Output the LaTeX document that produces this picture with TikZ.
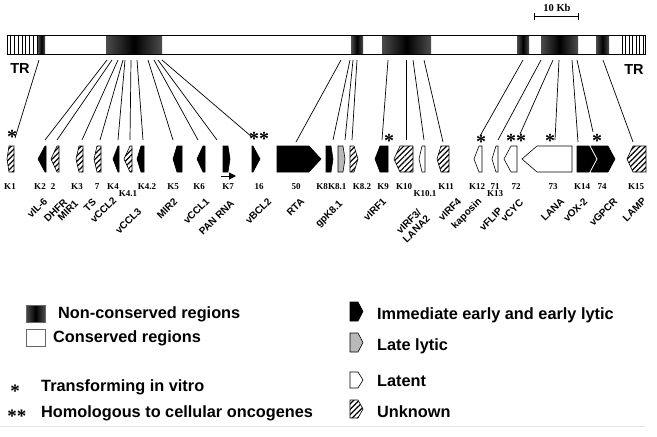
\documentclass[tikz,border=0pt]{standalone}
\usepackage{fontspec}
\setmainfont{Liberation Serif}
\setsansfont{Liberation Sans}
\usetikzlibrary{patterns.meta,arrows.meta}
% left-pointing gene: style, x1, x2, tip
\newcommand\geneL[4]{\path[#1] (#2,159) -- (#2+#4,146) -- (#3,146) -- (#3,172) -- (#2+#4,172) -- cycle;}
% right-pointing gene: style, x1, x2, tip
\newcommand\geneR[4]{\path[#1] (#2,146) -- (#3-#4,146) -- (#3,159) -- (#3-#4,172) -- (#2,172) -- cycle;}
\tikzset{
  early/.style={fill=black,draw=black,line width=0.6pt},
  late/.style={fill=gray!55,draw=black,line width=0.6pt},
  latent/.style={fill=white,draw=black,line width=0.6pt},
  unknown/.style={pattern={Lines[angle=45,distance=3.8pt,line width=1.2pt]},draw=black,line width=0.6pt},
  ncr/.style={left color=black!70,right color=black!70,middle color=black},
  conn/.style={line width=0.7pt},
  lab/.style={font=\fontsize{9}{9}\selectfont\bfseries,inner sep=0pt},
  gname/.style={font=\sffamily\fontsize{10}{10.5}\selectfont\bfseries,rotate=45,anchor=north east,inner sep=0pt},
  ast/.style={font=\fontsize{20}{20}\selectfont\bfseries,inner sep=0pt,anchor=base},
  last/.style={font=\fontsize{19}{19}\selectfont\bfseries,inner sep=0pt,anchor=base},
  leg/.style={font=\sffamily\fontsize{16.3}{17}\selectfont\bfseries,anchor=west,inner sep=0pt},
}
\begin{document}
\begin{tikzpicture}[x=1pt,y=-1pt]
\useasboundingbox (0,0) rectangle (657,437);
% ---------- genome bar ----------
\draw[line width=0.8pt,fill=white] (7,35) rectangle (645,54);
\foreach \xx in {10.5,14.3,18.1,21.9,25.7,29.5,33.3,37}{\draw[line width=0.6pt] (\xx,35) -- (\xx,54);}
\foreach \xx in {622,625.5,629,632.5,636,639.5,643}{\draw[line width=0.6pt] (\xx,35) -- (\xx,54);}
\foreach \a/\b in {38/45,106/162,351/363,382/431,517/529,541/578,596/609}{\shade[ncr] (\a,35.4) rectangle (\b,53.6);}
\draw[line width=0.8pt] (7,35) rectangle (645,54);
\node[font=\sffamily\fontsize{14.5}{14.5}\selectfont\bfseries,inner sep=0pt] (trl) at (20,69) {TR};
\node[font=\sffamily\fontsize{14.5}{14.5}\selectfont\bfseries,inner sep=0pt] (trr) at (634,70) {TR};
% scale bar
\coordinate (sb1) at (534,16);
\coordinate (sb2) at (578,16);
\draw[line width=0.8pt] (sb1) -- (sb2);
\draw[line width=0.8pt] (534,12.5) -- (534,19.5) (578,12.5) -- (578,19.5);
\node[font=\fontsize{10.5}{10.5}\selectfont\bfseries,inner sep=0pt] (sbl) at (557,7.5) {10 Kb};
% ---------- gene shapes ----------
\geneL{unknown}{7}{14}{2}
\geneL{early}{38}{46}{7}
\geneL{unknown}{51}{59}{6}
\geneL{unknown}{76}{83}{3}
\geneL{unknown}{94}{101}{3}
\geneL{early}{113}{119}{5}
\geneL{unknown}{124}{132}{6}
\geneL{early}{137}{144}{4}
\geneL{early}{173}{182}{4}
\geneL{early}{197}{205}{6}
\geneR{early}{223}{230}{2}
\geneR{early}{252}{260}{7}
\geneR{early}{277}{321}{12}
\geneR{early}{326}{333}{2}
\geneR{late}{338}{345}{2}
\geneR{unknown}{350}{358}{4}
\geneL{early}{375}{388}{5}
\geneL{unknown}{394}{413}{6}
\geneL{latent}{419}{425}{3}
\geneL{unknown}{437}{449}{4}
\geneL{latent}{474}{482}{5}
\geneL{latent}{492}{498}{4}
\geneL{latent}{504}{517}{7}
\geneL{latent}{522}{572}{15}
\path[early] (591,146) -- (608,146) -- (615,159) -- (608,172) -- (591,172) -- (598,159) -- cycle;
\geneR{early}{577}{596}{7}
\geneL{unknown}{627}{646}{6}
% K7 transcript arrow
\coordinate (pa1) at (221,176);
\coordinate (pa2) at (236,176);
\draw[line width=1pt,-{Triangle[length=7pt,width=7pt]}] (pa1) -- (pa2);
% ---------- connectors ----------
\foreach \n/\tx/\bx/\by in {K1/39/15/138, K2/107/45/140, two/112/57/140, K3/118/82/140, seven/123/100/140,
  K4/125/118/140, K41/131/130/140, K42/137/143/140, K5/148/173/140, K6/154/198/140, K7/158/217/140,
  sixteen/162/252/137, RTA/341/296/142, K8/350/333/140, K81/353/345/140, K82/357/352/140,
  K9/388/382/140, K10/406/406/140, K101/413/424/140, K11/424/443/142, K12/523/480/136,
  K13/541/498/140, vcyc/553/520/134, lana/559/555/140, K14/572/578/142, gpcr/577/593/132, K15/603/633/142}{
  \coordinate (t\n) at (\tx,60);
  \coordinate (g\n) at (\bx,\by);
  \draw[conn] (t\n) -- (g\n);
}
% ---------- asterisks ----------
\node[ast] (a1) at (12,143) {*};
\node[ast] (a2) at (259,145) {**};
\node[ast] (a3) at (389,147) {*};
\node[ast] (a4) at (481,148) {*};
\node[ast] (a5) at (516,147) {**};
\node[ast] (a6) at (550,147) {*};
\node[ast] (a7) at (597,147) {*};
% ---------- gene labels ----------
\foreach \t/\xx/\yy [count=\i] in {K1/10/187, K2/40/187, 2/53/187, K3/77/187, 7/97/187, K4/113/187,
  K4.1/128/194, K4.2/147/187, K5/173/187, K6/199/187, K7/228/187, 16/259/187, 50/296/187,
  K8.2/362/187, K9/383/187, K10/404/187, K10.1/425/194, K11/446/187, K12/477/187,
  71/495/187, K13/495/194, 72/516/187, 73/553/187, K14/582/187, 74/602/187, K15/636/187}{
  \node[lab] (l\i) at (\xx,\yy) {\t};
}
\node[lab,anchor=east] (lK8) at (328,187) {K8};
\node[lab,anchor=west] (lK81) at (328,187) {K8.1};
% ---------- gene names ----------
\foreach \t/\xx/\yy [count=\i] in {vIL-6/43/197, DHFR/63/198, MIR1/74/199, TS/92/198, vCCL2/112/196,
  vCCL3/137/207, MIR2/173/197, vCCL1/205/197, PAN RNA/230/199, vBCL2/267/197, RTA/300/197,
  gpK8.1/338/199, vIRF1/382/197, vIRF4/457/197, kaposin/477/197, vFLIP/498/207, vCYC/519/198,
  LANA/560/197, vOX-2/583/197, vGPCR/613/197, LAMP/642/197}{
  \node[gname] (n\i) at (\xx,\yy) {\t};
}
\node[gname,align=center] (nvirf3) at (418,207) {vIRF3/\\LANA2};
% ---------- legend ----------
\shade[ncr,draw=black!60] (26,305) rectangle (45,322);
\draw[line width=0.8pt,black!60] (26,329) rectangle (45,346);
\node[leg] (lg1) at (58,314) {Non-conserved regions};
\node[leg] (lg2) at (53,338) {Conserved regions};
\node[last] (la1) at (15,397) {*};
\node[last] (la2) at (17,422) {**};
\node[leg] (lg3) at (41,387) {Transforming in vitro};
\node[leg] (lg4) at (41,413) {Homologous to cellular oncogenes};
\path[early] (350,302) -- (358,302) -- (363,311.5) -- (358,321) -- (350,321) -- cycle;
\path[late] (350,333) -- (358,333) -- (363,342.5) -- (358,352) -- (350,352) -- cycle;
\path[latent] (350,372) -- (358,372) -- (363,380) -- (358,388) -- (350,388) -- cycle;
\path[unknown] (350,400) -- (358,400) -- (363,409) -- (358,418) -- (350,418) -- cycle;
\node[leg] (lg5) at (377,315) {Immediate early and early lytic};
\node[leg] (lg6) at (377,346) {Late lytic};
\node[leg] (lg7) at (377,381) {Latent};
\node[leg] (lg8) at (377,412) {Unknown};
\draw[gray!20,line width=0.8pt] (0,426) -- (645,426);
\end{tikzpicture}
\end{document}
